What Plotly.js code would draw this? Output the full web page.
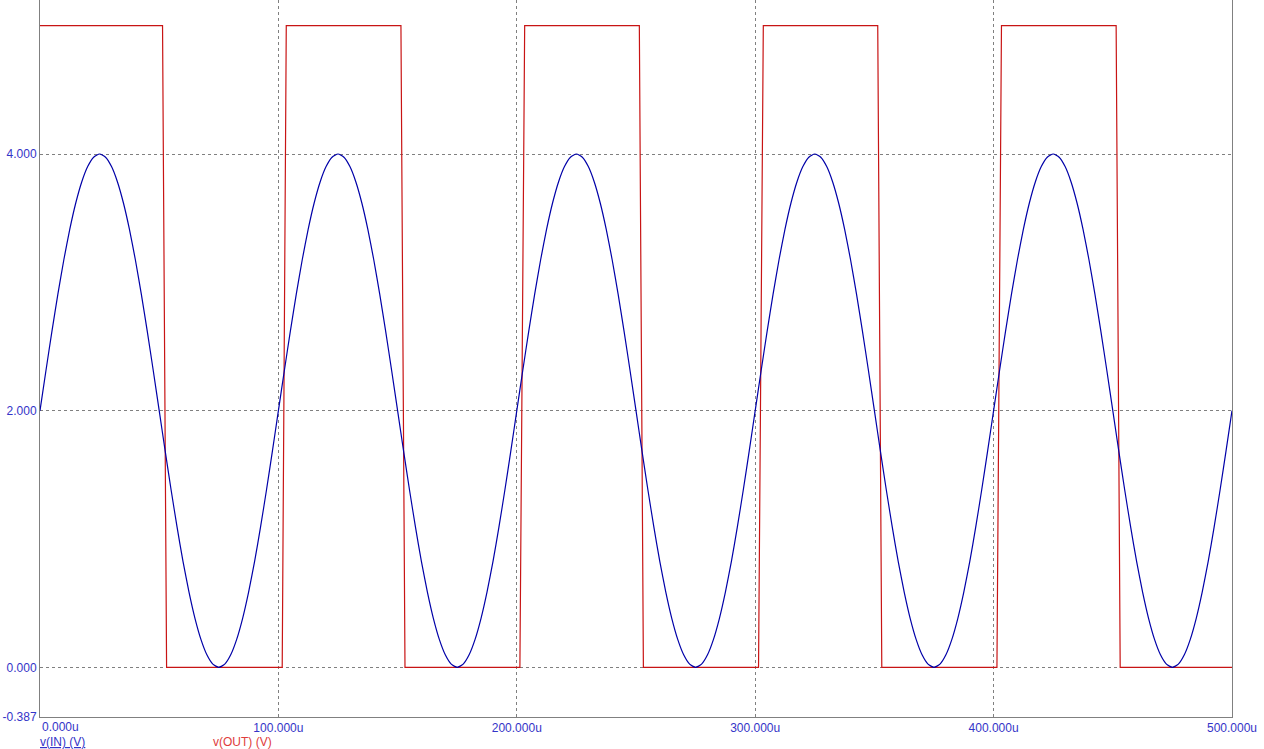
<!DOCTYPE html>
<html>
<head>
<meta charset="utf-8">
<script src="https://cdn.plot.ly/plotly-3.0.1.min.js"></script>
<style>
html,body{margin:0;padding:0;background:#fff;}
#chart{width:1264px;height:749px;}
</style>
</head>
<body>
<div id="chart"></div>
<script>
// v(IN): sampled every 2.5u from 0u to 500u
const vinStartUs = 0;
const vinStepUs = 2.5;
const vIn = [
2.000,2.313,2.618,2.908,3.176,3.414,3.618,3.782,3.902,3.975,4.000,3.975,3.902,3.782,3.618,3.414,3.176,2.908,2.618,2.313,
2.000,1.687,1.382,1.092,0.824,0.586,0.382,0.218,0.098,0.025,0.000,0.025,0.098,0.218,0.382,0.586,0.824,1.092,1.382,1.687,
2.000,2.313,2.618,2.908,3.176,3.414,3.618,3.782,3.902,3.975,4.000,3.975,3.902,3.782,3.618,3.414,3.176,2.908,2.618,2.313,
2.000,1.687,1.382,1.092,0.824,0.586,0.382,0.218,0.098,0.025,0.000,0.025,0.098,0.218,0.382,0.586,0.824,1.092,1.382,1.687,
2.000,2.313,2.618,2.908,3.176,3.414,3.618,3.782,3.902,3.975,4.000,3.975,3.902,3.782,3.618,3.414,3.176,2.908,2.618,2.313,
2.000,1.687,1.382,1.092,0.824,0.586,0.382,0.218,0.098,0.025,0.000,0.025,0.098,0.218,0.382,0.586,0.824,1.092,1.382,1.687,
2.000,2.313,2.618,2.908,3.176,3.414,3.618,3.782,3.902,3.975,4.000,3.975,3.902,3.782,3.618,3.414,3.176,2.908,2.618,2.313,
2.000,1.687,1.382,1.092,0.824,0.586,0.382,0.218,0.098,0.025,0.000,0.025,0.098,0.218,0.382,0.586,0.824,1.092,1.382,1.687,
2.000,2.313,2.618,2.908,3.176,3.414,3.618,3.782,3.902,3.975,4.000,3.975,3.902,3.782,3.618,3.414,3.176,2.908,2.618,2.313,
2.000,1.687,1.382,1.092,0.824,0.586,0.382,0.218,0.098,0.025,0.000,0.025,0.098,0.218,0.382,0.586,0.824,1.092,1.382,1.687,
2.000
];

// v(OUT): comparator output corner points (time in u, volts)
const voutTimeUs = [0, 51.4, 53.1, 101.6, 103.3, 151.4, 153.1, 201.3, 203.3, 251.4, 253.1, 301.4, 303.4, 351.4, 353.1, 401.4, 403.3, 451.4, 453.1, 500];
const voutVolts  = [5.0, 5.0, 0.0, 0.0, 5.0, 5.0, 0.0, 0.0, 5.0, 5.0, 0.0, 0.0, 5.0, 5.0, 0.0, 0.0, 5.0, 5.0, 0.0, 0.0];

const xTickVals = [0, 100, 200, 300, 400, 500];
const xTickText = ["0.000u", "100.000u", "200.000u", "300.000u", "400.000u", "500.000u"];
const yTickVals = [-0.387, 0, 2, 4];
const yTickText = ["-0.387", "0.000", "2.000", "4.000"];
const seriesNames = ["v(IN) (V)", "v(OUT) (V)"];

const tickBlue = "#3434c8";
const traces = [
  {
    type: "scatter", mode: "lines", name: seriesNames[1],
    x: voutTimeUs, y: voutVolts,
    line: {color: "#c81414", width: 1.2},
    hoverinfo: "skip"
  },
  {
    type: "scatter", mode: "lines", name: seriesNames[0],
    x0: vinStartUs, dx: vinStepUs, y: vIn,
    line: {color: "#0000a8", width: 1.2, shape: "spline", smoothing: 0.6},
    hoverinfo: "skip"
  }
];

// first x tick label is drawn left-aligned at the axis origin (as in the reference)
const shownXTickText = xTickText.map((t, i) => i === 0 ? "" : t);

const layout = {
  width: 1264, height: 749,
  margin: {l: 39.5, r: 32, t: 0, b: 32, pad: 0},
  paper_bgcolor: "#ffffff",
  plot_bgcolor: "#ffffff",
  showlegend: false,
  font: {family: "Liberation Sans, Arial, sans-serif", size: 12, color: tickBlue},
  xaxis: {
    range: [0, 500],
    tickvals: xTickVals, ticktext: shownXTickText,
    ticks: "", showline: true, linecolor: "#808080", linewidth: 1,
    showgrid: true, gridcolor: "#808080", gridwidth: 1, griddash: "3px,3px",
    zeroline: false, tickfont: {size: 12, color: tickBlue},
    fixedrange: true
  },
  yaxis: {
    range: [-0.387, 5.2],
    tickvals: yTickVals, ticktext: yTickText,
    ticks: "", ticklen: 0, showline: true, mirror: true, linecolor: "#808080", linewidth: 1,
    showgrid: true, gridcolor: "#808080", gridwidth: 1, griddash: "3px,3px",
    zeroline: false, tickfont: {size: 12, color: tickBlue},
    fixedrange: true
  },
  annotations: [
    {
      xref: "x", yref: "paper", x: xTickVals[0], y: 0, xanchor: "left", yanchor: "top",
      yshift: -1, xshift: 0, showarrow: false,
      text: xTickText[0],
      font: {size: 12, color: tickBlue}
    },
    {
      xref: "paper", yref: "paper", x: 0, y: 0, xanchor: "left", yanchor: "top",
      yshift: -16, xshift: -2, showarrow: false,
      text: '<span style="text-decoration:underline">' + seriesNames[0] + '</span>',
      font: {size: 12, color: "#3434c8"}
    },
    {
      xref: "paper", yref: "paper", x: 0, y: 0, xanchor: "left", yanchor: "top",
      yshift: -16, xshift: 171, showarrow: false,
      text: seriesNames[1],
      font: {size: 12, color: "#e03c3c"}
    }
  ]
};

Plotly.newPlot("chart", traces, layout, {staticPlot: true, displayModeBar: false});
</script>
</body>
</html>
